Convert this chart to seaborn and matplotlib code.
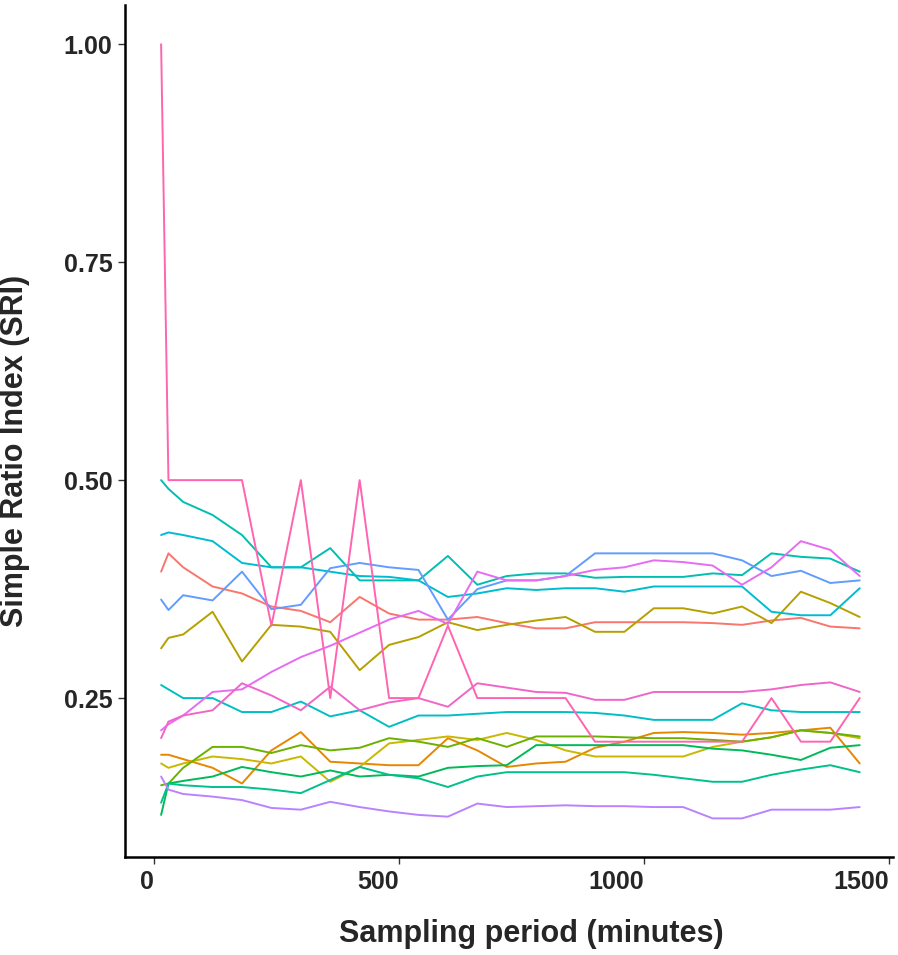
import pandas as pd
import matplotlib
matplotlib.use("Agg")
import matplotlib.pyplot as plt
import seaborn as sns

# sampling periods (minutes)
minutes = [15, 30, 60, 120, 180, 240, 300, 360, 420, 480, 540, 600, 660, 720,
           780, 840, 900, 960, 1020, 1080, 1140, 1200, 1260, 1320, 1380, 1440]

# SRI per dyad
sri_pink = [1.0, 0.5, 0.5, 0.5, 0.5, 0.333, 0.5, 0.25, 0.5, 0.25, 0.25, 0.333, 0.25,
            0.25, 0.25, 0.25, 0.2, 0.2, 0.2, 0.2, 0.2, 0.2, 0.25, 0.2, 0.2, 0.25]
sri_teal_a = [0.5, 0.49, 0.475, 0.46, 0.437, 0.40, 0.40, 0.422, 0.385, 0.385, 0.385, 0.413, 0.38,
              0.39, 0.393, 0.393, 0.388, 0.389, 0.389, 0.389, 0.393, 0.391, 0.416, 0.412, 0.41, 0.395]
sri_teal_b = [0.437, 0.44, 0.437, 0.43, 0.405, 0.40, 0.40, 0.395, 0.39, 0.389, 0.385, 0.366, 0.37,
              0.376, 0.374, 0.376, 0.376, 0.372, 0.378, 0.378, 0.378, 0.378, 0.349, 0.345, 0.345, 0.376]
sri_magenta_a = [0.213, 0.22, 0.23, 0.257, 0.26, 0.28, 0.297, 0.31, 0.325, 0.34, 0.35, 0.335, 0.395,
                 0.385, 0.385, 0.39, 0.397, 0.40, 0.408, 0.406, 0.402, 0.38, 0.40, 0.43, 0.42, 0.39]
sri_magenta_b = [0.204, 0.223, 0.23, 0.236, 0.267, 0.253, 0.236, 0.263, 0.236, 0.245, 0.25, 0.24, 0.267,
                 0.262, 0.257, 0.256, 0.248, 0.248, 0.257, 0.257, 0.257, 0.257, 0.26, 0.265, 0.268, 0.257]
sri_red = [0.395, 0.416, 0.40, 0.378, 0.37, 0.355, 0.35, 0.337, 0.366, 0.347, 0.34, 0.34, 0.343,
           0.336, 0.33, 0.33, 0.337, 0.337, 0.337, 0.337, 0.336, 0.334, 0.339, 0.342, 0.332, 0.33]
sri_olive = [0.307, 0.319, 0.323, 0.349, 0.292, 0.334, 0.332, 0.326, 0.282, 0.311, 0.32, 0.337, 0.328,
             0.334, 0.339, 0.343, 0.326, 0.326, 0.353, 0.353, 0.347, 0.355, 0.336, 0.372, 0.359, 0.343]
sri_blue = [0.363, 0.351, 0.368, 0.362, 0.395, 0.352, 0.357, 0.399, 0.405, 0.40, 0.397, 0.34, 0.375,
            0.385, 0.385, 0.39, 0.416, 0.416, 0.416, 0.416, 0.416, 0.408, 0.39, 0.396, 0.382, 0.385]
sri_cyan = [0.265, 0.26, 0.25, 0.25, 0.234, 0.234, 0.246, 0.229, 0.236, 0.217, 0.23, 0.23, 0.232,
            0.234, 0.234, 0.234, 0.233, 0.23, 0.225, 0.225, 0.225, 0.244, 0.236, 0.234, 0.234, 0.234]
sri_purple = [0.16, 0.145, 0.14, 0.137, 0.133, 0.124, 0.122, 0.131, 0.125, 0.12, 0.116, 0.114, 0.129,
              0.125, 0.126, 0.127, 0.126, 0.126, 0.125, 0.125, 0.112, 0.112, 0.122, 0.122, 0.122, 0.125]
sri_orange = [0.185, 0.185, 0.18, 0.17, 0.152, 0.19, 0.211, 0.177, 0.175, 0.173, 0.173, 0.204, 0.19,
              0.171, 0.175, 0.177, 0.193, 0.2, 0.21, 0.211, 0.21, 0.208, 0.21, 0.213, 0.216, 0.175]
sri_yellow = [0.175, 0.17, 0.175, 0.183, 0.18, 0.175, 0.183, 0.154, 0.171, 0.198, 0.202, 0.206, 0.202,
              0.21, 0.202, 0.19, 0.183, 0.183, 0.183, 0.183, 0.194, 0.2, 0.205, 0.213, 0.21, 0.204]
sri_green = [0.15, 0.152, 0.17, 0.194, 0.194, 0.187, 0.196, 0.19, 0.193, 0.204, 0.2, 0.194, 0.204,
             0.194, 0.206, 0.206, 0.206, 0.205, 0.204, 0.204, 0.202, 0.2, 0.205, 0.213, 0.21, 0.206]
sri_seagreen = [0.116, 0.152, 0.155, 0.16, 0.171, 0.165, 0.16, 0.167, 0.16, 0.162, 0.16, 0.17, 0.172,
                0.173, 0.196, 0.196, 0.196, 0.196, 0.196, 0.196, 0.192, 0.19, 0.185, 0.179, 0.193, 0.196]
sri_jade = [0.13, 0.152, 0.15, 0.148, 0.148, 0.145, 0.141, 0.156, 0.171, 0.162, 0.158, 0.148, 0.16,
            0.165, 0.165, 0.165, 0.165, 0.165, 0.162, 0.158, 0.154, 0.154, 0.162, 0.168, 0.173, 0.165]

series = {
    "red": sri_red, "orange": sri_orange, "olive": sri_olive, "yellow": sri_yellow,
    "green": sri_green, "seagreen": sri_seagreen, "jade": sri_jade, "teal_a": sri_teal_a,
    "teal_b": sri_teal_b, "cyan": sri_cyan, "blue": sri_blue, "purple": sri_purple,
    "magenta_a": sri_magenta_a, "magenta_b": sri_magenta_b, "pink": sri_pink,
}
palette = {
    "red": "#F8766D", "orange": "#E58700", "olive": "#B5A000", "yellow": "#C9B800",
    "green": "#6BB100", "seagreen": "#00BA5A", "jade": "#00C08B", "teal_a": "#00BFB0",
    "teal_b": "#00BCD0", "cyan": "#00BFC4", "blue": "#619CFF", "purple": "#B983FF",
    "magenta_a": "#E76BF3", "magenta_b": "#F066C8", "pink": "#FF64B0",
}

rows = []
for name, vals in series.items():
    for m, v in zip(minutes, vals):
        rows.append({"dyad": name, "minutes": m, "sri": v})
df = pd.DataFrame(rows)

sns.set_style("white")
plt.rcParams['font.family'] = ['Liberation Sans', 'DejaVu Sans']

fig = plt.figure(figsize=(8.98, 9.55), dpi=100)
ax = fig.add_axes([0.139, 0.1026, 0.8555, 0.8922])

sns.lineplot(data=df, x="minutes", y="sri", hue="dyad", palette=palette,
             estimator=None, legend=False, linewidth=1.4, ax=ax)

ax.set_xlim(-59, 1508)
ax.set_ylim(0.0677, 1.045)
ax.set_xticks([0, 500, 1000, 1500])
ax.set_yticks([0.25, 0.50, 0.75, 1.00])
ax.set_xticklabels(["0", "500", "1000", "1500"], ha="right")
ax.set_yticklabels(["0.25", "0.50", "0.75", "1.00"])
ax.tick_params(axis="both", labelsize=18, length=5, width=1, color="#333333",
               bottom=True, left=True, pad=4)
for lab in ax.get_xticklabels() + ax.get_yticklabels():
    lab.set_fontweight("bold")

for side in ["top", "right"]:
    ax.spines[side].set_visible(False)
for side in ["left", "bottom"]:
    ax.spines[side].set_color("black")
    ax.spines[side].set_linewidth(1.8)

ax.set_xlabel("Sampling period (minutes)", fontsize=22, fontweight="bold")
ax.set_ylabel("Simple Ratio Index (SRI)", fontsize=22, fontweight="bold")
ax.xaxis.set_label_coords(0.529, -0.073)
ax.yaxis.set_label_coords(-0.124, 0.4765)

fig.savefig("out.png", dpi=100)
